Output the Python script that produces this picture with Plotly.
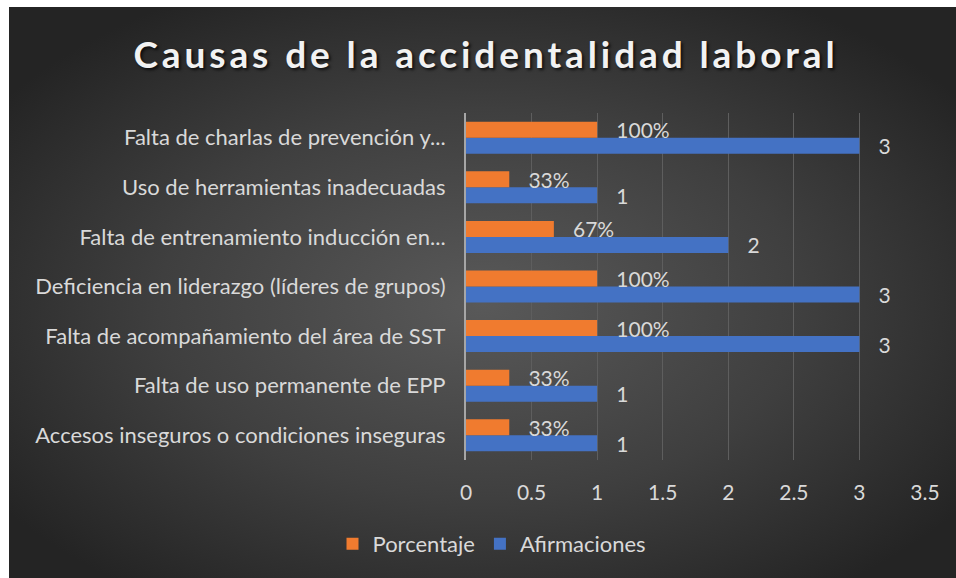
import base64
import plotly.graph_objects as go

categorias = [
    "Accesos inseguros o condiciones inseguras",
    "Falta de uso permanente de EPP",
    "Falta de acompañamiento del área de SST",
    "Deficiencia en liderazgo (líderes de grupos)",
    "Falta de entrenamiento inducción en...",
    "Uso de herramientas inadecuadas",
    "Falta de charlas de prevención y...",
]
afirmaciones = [1, 1, 3, 3, 2, 1, 3]
porcentaje = [0.33, 0.33, 1.0, 1.0, 0.67, 0.33, 1.0]
porcentaje_txt = ["33%", "33%", "100%", "100%", "67%", "33%", "100%"]
x_ticks = [0, 0.5, 1, 1.5, 2, 2.5, 3, 3.5]
x_ticklabels = ["0", "0.5", "1", "1.5", "2", "2.5", "3", "3.5"]

W, H = 956, 578
ML, MR, MT, MB = 466, 31, 113, 118
PW, PH = W - ML - MR, H - MT - MB

FONT = "Lato, Open Sans, sans-serif"
TXT = "#d9d9d9"

svg = f'''<svg xmlns="http://www.w3.org/2000/svg" width="{W}" height="{H}" viewBox="0 0 {W} {H}">
<defs><radialGradient id="g" cx="0.5" cy="0.52" r="0.62" fx="0.5" fy="0.52">
<stop offset="0" stop-color="#595959"/><stop offset="0.55" stop-color="#3f3f3f"/><stop offset="1" stop-color="#242424"/>
</radialGradient></defs>
<rect x="0" y="0" width="{W}" height="{H}" fill="#ffffff"/>
<rect x="9" y="7" width="{W-9}" height="{H-7}" fill="url(#g)"/>
</svg>'''
uri = "data:image/svg+xml;base64," + base64.b64encode(svg.encode()).decode()

fig = go.Figure()
fig.add_trace(go.Bar(
    y=categorias, x=afirmaciones, name="Afirmaciones", orientation="h",
    marker=dict(color="#4472c4", line=dict(width=0)),
    text=[str(v) for v in afirmaciones], texttemplate="   %{text}",
    textposition="outside", cliponaxis=False, constraintext="none",
    textfont=dict(family=FONT, size=21, color=TXT),
))
fig.add_trace(go.Bar(
    y=categorias, x=porcentaje, name="Porcentaje", orientation="h",
    marker=dict(color="#f07b2f", line=dict(width=0)),
    text=porcentaje_txt, texttemplate="   %{text}",
    textposition="outside", cliponaxis=False, constraintext="none",
    textfont=dict(family=FONT, size=21, color=TXT),
))

fig.update_layout(
    width=W, height=H,
    margin=dict(l=ML, r=MR, t=MT, b=MB, autoexpand=False),
    paper_bgcolor="#262626", plot_bgcolor="rgba(0,0,0,0)",
    barmode="group", bargap=0.355, bargroupgap=0,
    font=dict(family=FONT, color=TXT, size=21),
    title=dict(
        text='<span style="letter-spacing:3.9px">Causas de la accidentalidad laboral</span>',
        x=486 / W, xanchor="center", y=1 - 55 / H, yanchor="middle",
        font=dict(family=FONT, size=37, color="#f2f2f2", weight="bold",
                  shadow="2px 2px 3px rgba(0,0,0,0.7)"),
    ),
    xaxis=dict(
        range=[0, 3.5], tickvals=x_ticks, ticktext=x_ticklabels,
        showgrid=True, gridcolor="#5e5e5e", gridwidth=1,
        zeroline=False, showline=False, ticks="",
        tickfont=dict(family=FONT, size=21, color=TXT),
        ticklabelstandoff=18,
    ),
    yaxis=dict(
        categoryorder="array", categoryarray=categorias,
        showline=True, linecolor="#a6a6a6", linewidth=2,
        ticks="", showgrid=False,
        tickfont=dict(family=FONT, size=22, color=TXT),
        ticklabelstandoff=14,
    ),
    legend=dict(
        orientation="h", x=492 / W, xanchor="center", xref="container",
        y=1 - 544 / H, yanchor="middle", yref="container",
        traceorder="reversed", font=dict(family=FONT, size=22, color=TXT),
        bgcolor="rgba(0,0,0,0)", itemwidth=30,
    ),
    showlegend=True,
    images=[dict(
        source=uri, xref="paper", yref="paper",
        x=-ML / PW, y=(H - MB) / PH, sizex=W / PW, sizey=H / PH,
        sizing="stretch", xanchor="left", yanchor="top", layer="below",
    )],
)

fig.write_html(
    "out.html",
    config={"displayModeBar": False},
    post_script="document.body.style.margin='0';document.body.style.overflow='hidden';",
)
